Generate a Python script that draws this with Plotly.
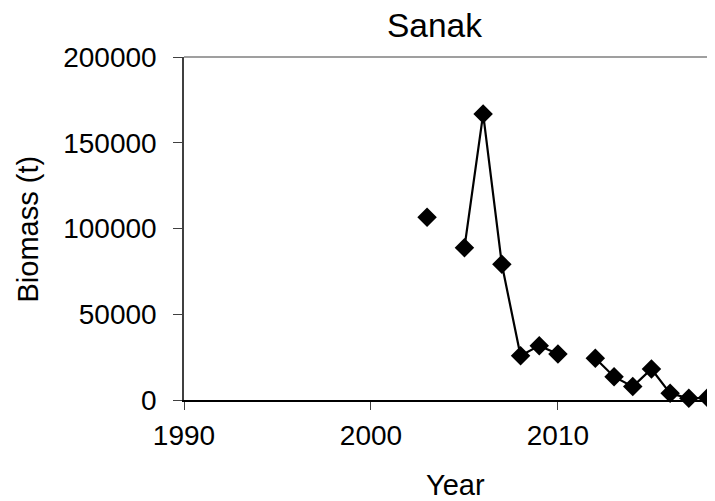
"""
plot.py -- Sanak biomass time series (diamond markers, gaps where no survey).
"""

import plotly.graph_objects as go

# ------------------------------------------------------------------
# Data
# ------------------------------------------------------------------

years = [2003, 2004, 2005, 2006, 2007, 2008, 2009, 2010, 2011,
         2012, 2013, 2014, 2015, 2016, 2017, 2018]
biomass = [106500, None, 88800, 166800, 79100, 25800, 31700, 26800, None,
           24300, 13600, 7800, 18100, 3900, 1000, 1300]

x_ticks = [1990, 2000, 2010]
y_ticks = [0, 50000, 100000, 150000, 200000]

FONT = "Liberation Sans, Arial, sans-serif"

# the page body adds an 8px margin, so the figure is 8px smaller
# than the window and everything is shifted back by that amount
PAGE_PAD = 8

# ------------------------------------------------------------------
# Figure
# ------------------------------------------------------------------

fig = go.Figure()

fig.add_trace(
    go.Scatter(
        x=years,
        y=biomass,
        mode="lines+markers",
        connectgaps=False,
        line=dict(color="black", width=2.2),
        marker=dict(symbol="diamond", size=15, color="black"),
        cliponaxis=False,
        showlegend=False,
    )
)

fig.update_layout(
    width=715 - PAGE_PAD,
    height=501 - PAGE_PAD,
    margin=dict(l=184 - PAGE_PAD, r=0, t=57 - PAGE_PAD, b=101),
    plot_bgcolor="white",
    paper_bgcolor="white",
    font=dict(family=FONT, size=28, color="black"),
    showlegend=False,
)

fig.update_xaxes(
    range=[1990, 2018.4],
    tickvals=x_ticks,
    ticktext=[str(v) for v in x_ticks],
    ticks="outside",
    ticklen=8,
    tickwidth=1.2,
    tickcolor="#404040",
    showline=True,
    linecolor="black",
    linewidth=1.5,
    showgrid=False,
    zeroline=False,
    ticklabelstandoff=2,
)

fig.update_yaxes(
    range=[0, 200000],
    tickvals=y_ticks,
    ticktext=[str(v) for v in y_ticks],
    ticks="outside",
    ticklen=9,
    tickwidth=1.2,
    tickcolor="#404040",
    showline=True,
    linecolor="#404040",
    linewidth=1.5,
    showgrid=False,
    zeroline=False,
    ticklabelstandoff=11,
)

# top border of the plot area
fig.add_shape(
    type="line",
    xref="paper", yref="paper",
    x0=0, x1=1, y0=1, y1=1,
    line=dict(color="#7f7f7f", width=1.5),
)

# titles placed as annotations to match the original offsets
fig.add_annotation(
    text="Sanak",
    xref="paper", yref="paper",
    x=0.4718, y=1.092,
    xanchor="center", yanchor="middle",
    showarrow=False,
    font=dict(size=33.5),
)
fig.add_annotation(
    text="Year",
    xref="paper", yref="paper",
    x=0.512, y=-0.248,
    xanchor="center", yanchor="middle",
    showarrow=False,
    font=dict(size=29),
)
fig.add_annotation(
    text="Biomass (t)",
    xref="paper", yref="paper",
    x=-0.2938, y=0.5,
    xanchor="center", yanchor="middle",
    textangle=-90,
    showarrow=False,
    font=dict(size=29),
)

fig.write_html("out.html")
